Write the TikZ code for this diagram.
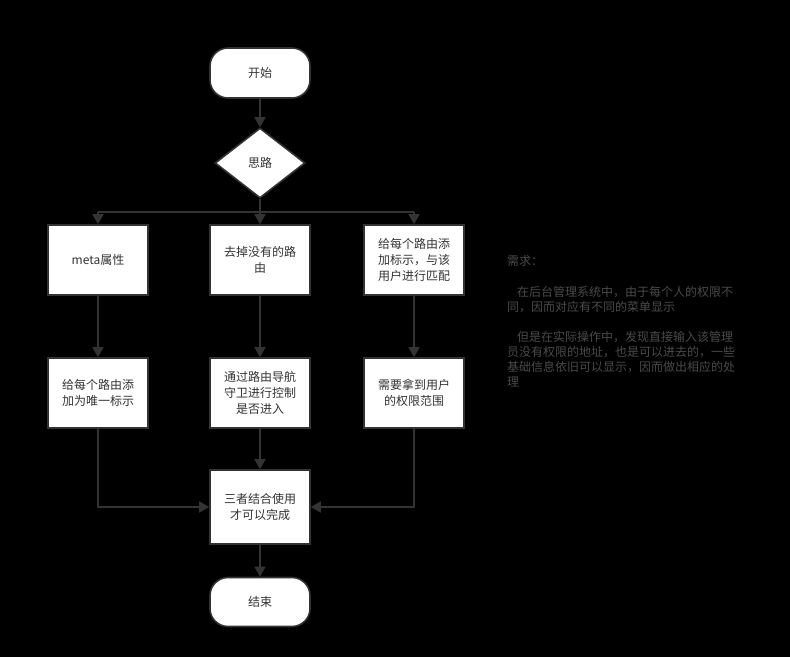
\documentclass[tikz,border=0pt]{standalone}
\usepackage{fontspec}
\setmainfont{Noto Sans CJK SC}
\usetikzlibrary{shapes.geometric,arrows.meta}
\definecolor{ln}{HTML}{333333}
\definecolor{note}{HTML}{4A4A4A}
\begin{document}
\begin{tikzpicture}[x=1pt,y=-1pt,
  box/.style={draw=ln,line width=1.6pt,fill=white,minimum width=100pt,minimum height=70pt,
    inner sep=0pt,align=center,font=\fontsize{12}{16}\selectfont,text=ln},
  term/.style={box,rounded corners=18pt,minimum height=50pt},
  dia/.style={diamond,draw=ln,line width=1.6pt,fill=white,minimum width=90pt,minimum height=70pt,
    inner sep=0pt,aspect=1.29,font=\fontsize{12}{16}\selectfont,text=ln},
  arr/.style={draw=ln,line width=1.6pt,-{Triangle[length=10pt,width=11pt]}},
  con/.style={draw=ln,line width=1.6pt},
  notetext/.style={anchor=north west,align=left,inner sep=0pt,text=note,font=\fontsize{12}{15}\selectfont}
]
\path[fill=black] (0,0) rectangle (790,657);
\useasboundingbox (0,0) rectangle (790,657);

\node[term] (start) at (260,73) {开始};
\node[dia] (think) at (260,163) {思路};
\node[box] (a1) at (98,260) {meta属性};
\node[box] (a2) at (260,260) {去掉没有的路\\由};
\node[box] (a3) at (414,260) {给每个路由添\\加标示，与该\\用户进行匹配};
\node[box] (b1) at (98,393) {给每个路由添\\加为唯一标示};
\node[box] (b2) at (260,393) {通过路由导航\\守卫进行控制\\是否进入};
\node[box] (b3) at (414,393) {需要拿到用户\\的权限范围};
\node[box,minimum height=74pt] (c) at (260,507) {三者结合使用\\才可以完成};
\node[term,minimum height=49pt] (stop) at (260,602) {结束};

\coordinate (split) at (260,212);
\coordinate (sl) at (98,212);
\coordinate (sr) at (414,212);

\draw[arr] (start) -- (think);
\draw[con] (think.south) -- (split);
\draw[con] (sl) -- (sr);
\draw[arr] (sl) -- (a1);
\draw[arr] (split) -- (a2);
\draw[arr] (sr) -- (a3);
\draw[arr] (a1) -- (b1);
\draw[arr] (a2) -- (b2);
\draw[arr] (a3) -- (b3);
\draw[arr] (b1.south) |- (c.west);
\draw[arr] (b2) -- (c);
\draw[arr] (b3.south) |- (c.east);
\draw[arr] (c) -- (stop);

\node[notetext] (note) at (507,255) {需求：\\[16pt]
\hspace{10pt}在后台管理系统中，由于每个人的权限不\\
同，因而对应有不同的菜单显示\\[15pt]
\hspace{10pt}但是在实际操作中，发现直接输入该管理\\
员没有权限的地址，也是可以进去的，一些\\
基础信息依旧可以显示，因而做出相应的处\\
理};
\end{tikzpicture}
\end{document}
